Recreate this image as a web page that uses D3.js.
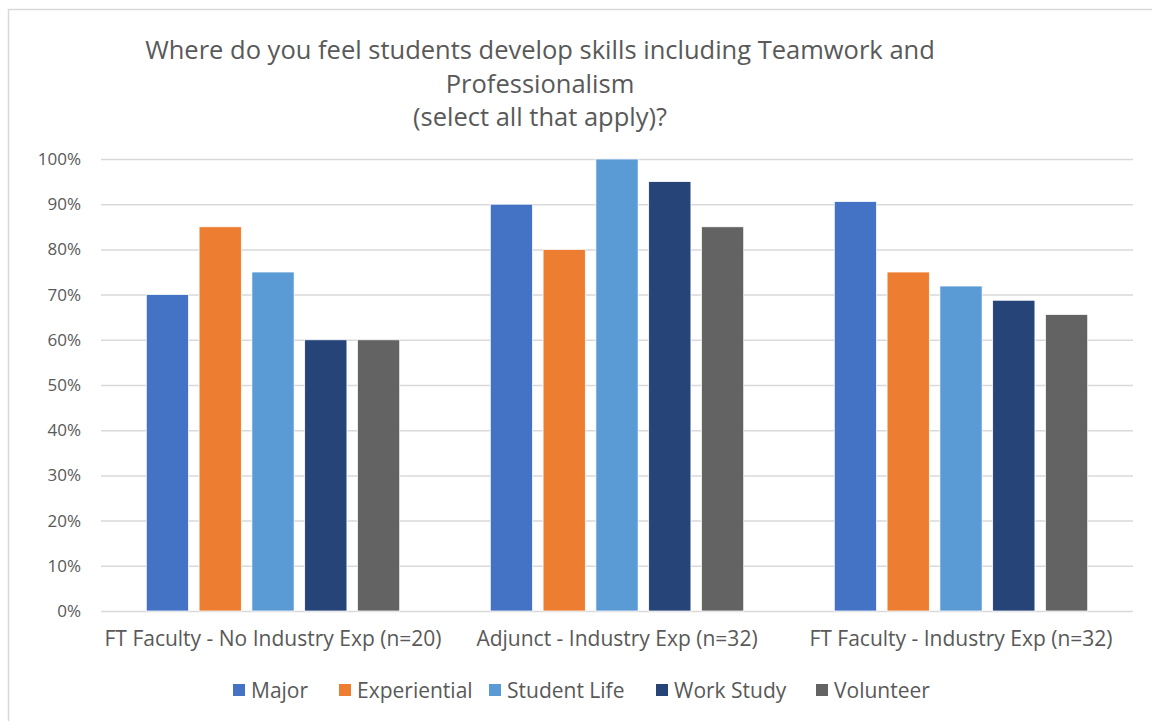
<!DOCTYPE html>
<html>
<head>
<meta charset="utf-8">
<script src="https://cdn.jsdelivr.net/npm/d3@7"></script>
<style>
  html, body { margin: 0; padding: 0; background: #fff; }
  svg { display: block; font-family: "Open Sans", "Noto Sans", sans-serif; }
</style>
</head>
<body>
<svg id="chart" width="1152" height="721"></svg>
<script>
// Survey groups along the x axis
const categories = [
  "FT Faculty - No Industry Exp (n=20)",
  "Adjunct - Industry Exp (n=32)",
  "FT Faculty - Industry Exp (n=32)"
];
// Series names and colours
const seriesNames = ["Major", "Experiential", "Student Life", "Work Study", "Volunteer"];
const seriesColors = ["#4472C4", "#ED7D31", "#5B9BD5", "#264478", "#636363"];
// Share of respondents per series, one value per category
const major        = [0.70, 0.90, 0.906];
const experiential = [0.85, 0.80, 0.75];
const studentLife  = [0.75, 1.00, 0.719];
const workStudy    = [0.60, 0.95, 0.6875];
const volunteer    = [0.60, 0.85, 0.656];
const seriesValues = [major, experiential, studentLife, workStudy, volunteer];
// Y axis ticks
const yTicks = [0, 0.1, 0.2, 0.3, 0.4, 0.5, 0.6, 0.7, 0.8, 0.9, 1.0];
const titleLines = [
  "Where do you feel students develop skills including Teamwork and",
  "Professionalism",
  "(select all that apply)?"
];

const svg = d3.select("#chart");
const textColor = "#595959";
const fontStack = "\"Open Sans\", \"Noto Sans\", sans-serif";

// Chart frame
svg.append("rect")
  .attr("x", 8.5).attr("y", 9.5)
  .attr("width", 1160).attr("height", 720)
  .attr("fill", "#fff")
  .attr("stroke", "#d9d9d9")
  .attr("stroke-width", 1.5);

const plot = { left: 101, right: 1133, top: 159, bottom: 611 };

const x0 = d3.scaleBand().domain(categories).range([plot.left, plot.right]).padding(0);
const x1 = d3.scaleBand().domain(seriesNames)
  .range([40, x0.bandwidth() - 40])
  .paddingInner(0.2).paddingOuter(0.1);
const y = d3.scaleLinear().domain([0, 1]).range([plot.bottom, plot.top]);
const color = d3.scaleOrdinal().domain(seriesNames).range(seriesColors);

// Title
svg.append("text")
  .attr("x", 540).attr("y", 59)
  .attr("text-anchor", "middle")
  .attr("fill", textColor)
  .attr("font-size", 25.5)
  .selectAll("tspan")
  .data(titleLines)
  .join("tspan")
  .attr("x", 540)
  .attr("dy", (d, i) => i === 0 ? 0 : 33.5)
  .text(d => d);

// Gridlines + y labels via axis
const yAxis = d3.axisLeft(y)
  .tickValues(yTicks)
  .tickFormat(d3.format(".0%"))
  .tickSize(-(plot.right - plot.left))
  .tickPadding(20);

const yg = svg.append("g")
  .attr("transform", `translate(${plot.left},0)`)
  .call(yAxis);
yg.select(".domain").remove();
yg.selectAll(".tick line").attr("stroke", "#d9d9d9").attr("stroke-width", 1.5);
yg.selectAll(".tick text")
  .attr("fill", textColor)
  .attr("font-size", 17)
  .attr("font-family", fontStack);

// Bars
const rows = [];
categories.forEach((c, ci) => {
  seriesNames.forEach((s, si) => {
    rows.push({ cat: c, series: s, value: seriesValues[si][ci] });
  });
});

svg.append("g")
  .selectAll("rect")
  .data(rows)
  .join("rect")
  .attr("x", d => x0(d.cat) + x1(d.series))
  .attr("y", d => y(d.value))
  .attr("width", x1.bandwidth())
  .attr("height", d => y(0) - y(d.value))
  .attr("fill", d => color(d.series))
  .attr("stroke", "#ffffff")
  .attr("stroke-width", 0.75);

// Category labels
const xAxis = d3.axisBottom(x0).tickSize(0).tickPadding(20);
const xg = svg.append("g")
  .attr("transform", `translate(0,${plot.bottom})`)
  .call(xAxis);
xg.select(".domain").remove();
xg.selectAll(".tick text")
  .attr("fill", textColor)
  .attr("font-size", 21)
  .attr("font-family", fontStack);

// Legend
const legendX = [233, 339, 489, 656, 816];
const legend = svg.append("g");
const items = legend.selectAll("g")
  .data(seriesNames)
  .join("g")
  .attr("transform", (d, i) => `translate(${legendX[i]},684)`);
items.append("rect")
  .attr("width", 12).attr("height", 12)
  .attr("fill", d => color(d));
items.append("text")
  .attr("x", 18).attr("y", 13.5)
  .attr("fill", textColor)
  .attr("font-size", 21)
  .text(d => d);
</script>
</body>
</html>
